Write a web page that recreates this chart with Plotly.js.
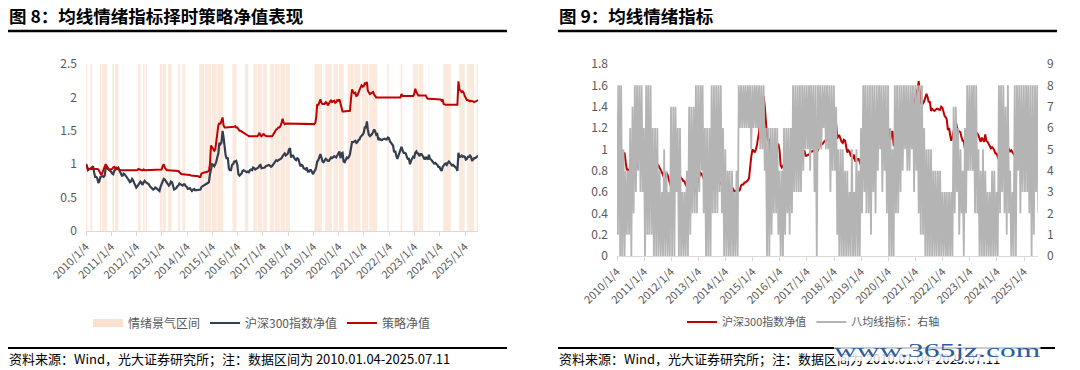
<!DOCTYPE html>
<html>
<head>
<meta charset="utf-8">
<script src="https://cdn.plot.ly/plotly-3.0.1.min.js"></script>
<style>
  html, body { margin: 0; padding: 0; background: #fff; }
  #wrap { position: relative; width: 1080px; height: 370px; }
  #chart { width: 1080px; height: 370px; }
  #wm { position: absolute; left: 834px; top: 341px; font-family: 'Liberation Serif', serif; font-size: 18px;
        color: #2E5C9E; transform: scaleX(1.75); transform-origin: left top; background: rgba(255,255,255,0.8);
        line-height: 20px; white-space: nowrap; }
</style>
</head>
<body>
<div id="wrap">
  <div id="chart"></div>
  <div id="wm">www.365jz.com</div>
</div>
<script>
// ---------------- DATA ----------------
// Half-monthly samples (1st and 16th of each month), 2010-01 .. 2025-07
const CSI300_NAV = [
  1.00,0.98, 0.91,0.93, 0.93,0.94, 0.96,0.97, 0.88,0.81, 0.81,0.79, 0.72,0.74, 0.81,0.82, 0.82,0.81, 0.83,0.94, 0.97,0.93, 0.92,0.90,
  0.89,0.86, 0.85,0.90, 0.92,0.93, 0.94,0.95, 0.91,0.86, 0.84,0.82, 0.86,0.85, 0.83,0.81, 0.79,0.76, 0.73,0.74, 0.78,0.76, 0.72,0.68,
  0.65,0.67, 0.70,0.73, 0.74,0.72, 0.69,0.73, 0.75,0.73, 0.72,0.70, 0.70,0.67, 0.65,0.64, 0.62,0.63, 0.65,0.64, 0.63,0.61, 0.60,0.66,
  0.71,0.74, 0.78,0.77, 0.75,0.71, 0.70,0.68, 0.70,0.74, 0.73,0.65, 0.62,0.63, 0.64,0.67, 0.68,0.71, 0.70,0.69, 0.68,0.70, 0.70,0.67,
  0.66,0.63, 0.63,0.64, 0.62,0.60, 0.62,0.63, 0.61,0.61, 0.61,0.61, 0.61,0.62, 0.66,0.67, 0.67,0.69, 0.69,0.70, 0.71,0.73, 0.85,0.93,
  1.00,0.99, 0.97,1.00, 1.03,1.10, 1.16,1.32, 1.30,1.32, 1.50,1.40, 1.20,1.13, 1.08,1.10, 0.93,0.91, 0.91,0.99, 1.00,1.04, 1.04,1.05,
  0.99,0.85, 0.83,0.85, 0.86,0.90, 0.91,0.90, 0.89,0.88, 0.89,0.88, 0.91,0.92, 0.91,0.95, 0.94,0.92, 0.93,0.94, 0.95,0.98, 0.99,0.94,
  0.94,0.95, 0.95,0.97, 0.98,0.98, 0.99,0.98, 0.96,0.97, 0.99,1.02, 1.04,1.06, 1.05,1.06, 1.08,1.08, 1.09,1.12, 1.14,1.16, 1.13,1.14,
  1.16,1.22, 1.24,1.10, 1.13,1.13, 1.09,1.07, 1.06,1.09, 1.08,1.02, 0.97,0.99, 0.98,0.94, 0.93,0.92, 0.95,0.89, 0.89,0.91, 0.91,0.87,
  0.85,0.89, 0.91,0.97, 1.04,1.06, 1.11,1.15, 1.10,1.04, 1.03,1.06, 1.08,1.07, 1.05,1.05, 1.08,1.10, 1.09,1.10, 1.12,1.11, 1.10,1.13,
  1.17,1.19, 1.09,1.16, 1.17,1.04, 1.03,1.07, 1.10,1.09, 1.11,1.15, 1.24,1.33, 1.33,1.34, 1.35,1.32, 1.33,1.36, 1.37,1.41, 1.42,1.44,
  1.47,1.55, 1.55,1.64, 1.52,1.44, 1.42,1.43, 1.45,1.48, 1.52,1.49, 1.44,1.45, 1.36,1.38, 1.37,1.36, 1.37,1.38, 1.38,1.37, 1.37,1.40,
  1.39,1.34, 1.31,1.30, 1.28,1.18, 1.20,1.13, 1.08,1.12, 1.17,1.22, 1.26,1.21, 1.17,1.17, 1.16,1.11, 1.08,1.08, 1.00,1.05, 1.08,1.11,
  1.10,1.17, 1.19,1.16, 1.16,1.12, 1.15,1.15, 1.13,1.09, 1.07,1.11, 1.08,1.07, 1.14,1.08, 1.07,1.05, 1.03,1.01, 1.02,1.01, 0.99,0.96,
  0.96,0.92, 0.90,0.96, 0.99,1.00, 1.01,0.99, 1.02,1.04, 1.02,1.00, 0.98,0.99, 0.97,0.95, 0.94,0.90, 1.17,1.10, 1.11,1.13, 1.11,1.12,
  1.11,1.07, 1.08,1.11, 1.11,1.13, 1.11,1.05, 1.07,1.09, 1.09,1.10, 1.12,1.13
];
const STRATEGY_NAV = [
  1.00,0.95, 0.93,0.93, 0.93,0.94, 0.93,0.93, 0.93,0.93, 0.93,0.93, 0.92,0.88, 0.86,0.84, 0.88,0.93, 0.96,1.00, 0.97,0.93, 0.92,0.92,
  0.92,0.93, 0.95,0.96, 0.94,0.95, 0.93,0.92, 0.91,0.91, 0.91,0.91, 0.91,0.91, 0.91,0.91, 0.91,0.91, 0.91,0.91, 0.91,0.91, 0.91,0.91,
  0.91,0.91, 0.93,0.92, 0.91,0.91, 0.91,0.92, 0.91,0.91, 0.91,0.91, 0.91,0.91, 0.91,0.91, 0.91,0.91, 0.91,0.91, 0.91,0.91, 0.91,0.91,
  0.92,0.97, 1.00,0.95, 0.92,0.91, 0.91,0.91, 0.91,0.91, 0.91,0.91, 0.91,0.91, 0.91,0.91, 0.90,0.88, 0.86,0.85, 0.85,0.85, 0.85,0.85,
  0.84,0.84, 0.84,0.84, 0.83,0.83, 0.83,0.83, 0.82,0.82, 0.82,0.82, 0.81,0.81, 0.86,0.87, 0.87,0.88, 0.88,0.88, 0.89,0.90, 1.00,1.28,
  1.25,1.22, 1.20,1.22, 1.30,1.45, 1.58,1.62, 1.60,1.66, 1.70,1.58, 1.55,1.55, 1.55,1.55, 1.55,1.55, 1.55,1.55, 1.55,1.56, 1.57,1.55,
  1.55,1.52, 1.50,1.50, 1.49,1.48, 1.47,1.45, 1.44,1.43, 1.43,1.42, 1.42,1.43, 1.42,1.42, 1.43,1.42, 1.42,1.42, 1.44,1.47, 1.43,1.42,
  1.44,1.45, 1.43,1.42, 1.42,1.42, 1.42,1.42, 1.41,1.42, 1.44,1.47, 1.50,1.52, 1.53,1.55, 1.55,1.57, 1.62,1.68, 1.62,1.60, 1.61,1.61,
  1.61,1.61, 1.61,1.61, 1.61,1.61, 1.61,1.61, 1.61,1.61, 1.61,1.61, 1.61,1.61, 1.61,1.61, 1.61,1.61, 1.61,1.60, 1.60,1.60, 1.60,1.60,
  1.60,1.60, 1.62,1.72, 1.90,1.88, 1.93,1.97, 1.92,1.90, 1.90,1.90, 1.93,1.92, 1.88,1.90, 1.94,1.96, 1.93,1.94, 1.95,1.92, 1.93,1.96,
  1.95,1.97, 1.90,1.85, 1.79,1.79, 1.79,1.79, 1.79,1.79, 1.79,1.80, 1.98,2.12, 2.08,2.06, 2.07,2.02, 2.03,2.08, 2.10,2.15, 2.18,2.16,
  2.17,2.21, 2.20,2.23, 2.10,2.07, 2.05,2.06, 2.07,2.08, 2.04,2.01, 2.00,2.00, 2.00,2.00, 2.00,2.00, 2.00,2.00, 2.00,2.00, 2.00,2.00,
  2.00,2.00, 2.00,2.00, 2.00,2.00, 2.00,2.00, 2.00,2.00, 2.00,2.00, 2.05,2.02, 2.02,2.02, 2.02,2.02, 2.02,2.02, 2.02,2.02, 2.02,2.02,
  2.05,2.13, 2.08,2.04, 2.03,2.03, 2.03,2.03, 2.03,2.03, 2.03,2.03, 2.00,1.98, 1.98,1.98, 1.98,1.98, 1.98,1.98, 1.97,1.97, 1.97,1.97,
  1.97,1.97, 1.95,1.97, 1.90,1.89, 1.89,1.89, 1.89,1.89, 1.89,1.89, 1.89,1.89, 1.89,1.89, 1.89,1.89, 2.24,2.12, 2.10,2.08, 2.09,2.07,
  2.02,1.98, 1.96,1.96, 1.95,1.94, 1.95,1.95, 1.94,1.93, 1.94,1.95, 1.96,1.96
];
// Eight-MA indicator (0-8): monthly high (1st) and low (16th), one digit per month, one row per year
const MA8_HIGH = [
  "888544678888","688866643543","777663347778","888666888886","544434888888","888888666666",
  "446666888888","888888888888","875554435354","688888888888","865888888888","888865554444",
  "333337765468","888854543344","388878438888","8888888"
];
const MA8_LOW = [
  "100011023433","011100000000","003000001222","342000222320","000000666665","666554001221",
  "001212333345","545305565534","410000000000","232213245342","000223454453","421100000000",
  "000002312024","442200000000","023212000423","3320132"
];
// Sentiment "boom" intervals (shaded on the left chart)
const BOOM_START = [
  "2010-01-04","2010-03-06","2010-07-20","2010-08-25","2011-01-20","2011-03-01","2011-06-22","2012-01-26",
  "2012-04-08","2012-05-15","2012-12-06","2013-01-22","2013-04-05","2013-08-29","2013-10-30","2014-06-28",
  "2014-09-18","2014-12-28","2015-03-16","2015-10-23","2016-04-20","2016-08-18","2016-10-20","2017-01-05",
  "2017-04-15","2017-06-28","2017-09-15","2017-11-28","2019-01-20","2019-06-25","2019-10-22","2020-01-05",
  "2020-05-15","2020-08-18","2020-12-08","2021-03-20","2021-12-06","2022-06-18","2022-12-16","2023-03-05",
  "2023-07-30","2024-02-25","2024-10-12","2025-02-06","2025-06-20"
];
const BOOM_END = [
  "2010-01-20","2010-04-04","2010-08-14","2010-11-06","2011-02-14","2011-04-20","2011-06-28","2012-03-03",
  "2012-04-30","2012-06-06","2013-01-15","2013-03-03","2013-05-26","2013-09-24","2013-12-08","2014-09-10",
  "2014-12-20","2015-03-10","2015-06-10","2015-12-20","2016-06-05","2016-10-10","2016-12-25","2017-03-01",
  "2017-06-20","2017-09-05","2017-11-20","2018-01-30","2019-05-08","2019-10-01","2019-12-25","2020-03-18",
  "2020-08-10","2020-11-14","2021-03-10","2021-07-12","2021-12-31","2022-07-12","2023-02-25","2023-05-10",
  "2023-08-06","2024-06-13","2024-12-31","2025-05-15","2025-07-11"
];
const TICK_DATES = ["2010-01-04","2011-01-04","2012-01-04","2013-01-04","2014-01-04","2015-01-04","2016-01-04","2017-01-04",
  "2018-01-04","2019-01-04","2020-01-04","2021-01-04","2022-01-04","2023-01-04","2024-01-04","2025-01-04"];
const TICK_TEXT = ["2010/1/4","2011/1/4","2012/1/4","2013/1/4","2014/1/4","2015/1/4","2016/1/4","2017/1/4",
  "2018/1/4","2019/1/4","2020/1/4","2021/1/4","2022/1/4","2023/1/4","2024/1/4","2025/1/4"];
const X_START = "2010-01-04", X_END = "2025-07-11";

// ---------------- BUILD ----------------
const pad = n => (n < 10 ? "0" : "") + n;
const NAV_DATES = CSI300_NAV.map((_, i) => {
  const y = 2010 + Math.floor(i / 24), m = Math.floor((i % 24) / 2) + 1, d = (i % 2) ? 16 : 1;
  return y + "-" + pad(m) + "-" + pad(d);
});
const maX = [], maY = [];
MA8_HIGH.forEach((row, yi) => {
  for (let k = 0; k < row.length; k++) {
    const base = (2010 + yi) + "-" + pad(k + 1);
    maX.push(base + "-01"); maY.push(+row[k]);
    maX.push(base + "-16"); maY.push(+MA8_LOW[yi][k]);
  }
});

const FONT = "Noto Sans CJK SC, Noto Sans, sans-serif";
const TICKC = "#595959";
const SHADE = "rgba(248,203,173,0.42)";

const traces = [
  { x: [null], y: [null], type: "scatter", mode: "lines", name: "情绪景气区间",
    line: { color: "#FBE1D0", width: 8 }, xaxis: "x", yaxis: "y", legend: "legend" },
  { x: NAV_DATES, y: CSI300_NAV, type: "scatter", mode: "lines", name: "沪深300指数净值",
    line: { color: "#333F50", width: 2.2 }, xaxis: "x", yaxis: "y", legend: "legend" },
  { x: NAV_DATES, y: STRATEGY_NAV, type: "scatter", mode: "lines", name: "策略净值",
    line: { color: "#C00000", width: 2 }, xaxis: "x", yaxis: "y", legend: "legend" },
  { x: NAV_DATES, y: CSI300_NAV, type: "scatter", mode: "lines", name: "沪深300指数净值",
    line: { color: "#C00000", width: 2 }, xaxis: "x2", yaxis: "y2", legend: "legend2" },
  { x: maX, y: maY, type: "scatter", mode: "lines", name: "八均线指标：右轴",
    line: { color: "#B4B4B4", width: 1.8 }, xaxis: "x2", yaxis: "y3", legend: "legend2" }
];

const shapes = BOOM_START.map((s, i) => ({
  type: "rect", xref: "x", yref: "y", x0: s, x1: BOOM_END[i], y0: 0, y1: 2.5,
  fillcolor: SHADE, line: { width: 0 }, layer: "below"
}));
const W = 1080, H = 370;
const px = v => v / W, py = v => 1 - v / H;
[[8, 507, 31, 2.5], [558, 1057, 31, 2.5], [8, 507, 348, 2], [558, 1055, 348, 2]].forEach(a => {
  shapes.push({ type: "line", xref: "paper", yref: "paper", x0: px(a[0]), x1: px(a[1]), y0: py(a[2]), y1: py(a[2]),
    line: { color: "#000", width: a[3] } });
});

const xCommon = {
  type: "date", range: [X_START, X_END], tickvals: TICK_DATES, ticktext: TICK_TEXT, tickangle: -45,
  ticks: "outside", ticklen: 4, tickcolor: "#D9D9D9", showline: true, linecolor: "#D9D9D9", linewidth: 1,
  showgrid: false, zeroline: false, tickfont: { family: FONT, size: 11, color: TICKC }
};
const yCommon = {
  showgrid: false, zeroline: false, showline: false, ticks: "", ticklabelstandoff: 8,
  tickfont: { family: FONT, size: 12, color: TICKC }
};
const layout = {
  width: W, height: H, margin: { l: 0, r: 0, t: 0, b: 0 },
  paper_bgcolor: "#fff", plot_bgcolor: "#fff", font: { family: FONT },
  showlegend: true,
  xaxis: Object.assign({}, xCommon, { domain: [px(86), px(478)], anchor: "y" }),
  yaxis: Object.assign({}, yCommon, { domain: [py(231), py(64)], range: [0, 2.5], dtick: 0.5, anchor: "x" }),
  xaxis2: Object.assign({}, xCommon, { domain: [px(617), px(1038)], anchor: "y2" }),
  yaxis2: Object.assign({}, yCommon, { domain: [py(256), py(64)], range: [0, 1.8], dtick: 0.2, anchor: "x2" }),
  yaxis3: Object.assign({}, yCommon, { domain: [py(256), py(64)], range: [0, 9], dtick: 1, anchor: "x2",
    overlaying: "y2", side: "right" }),
  legend: { orientation: "h", x: px(88), y: py(323), xanchor: "left", yanchor: "middle",
    font: { family: FONT, size: 12, color: TICKC }, bgcolor: "rgba(0,0,0,0)", itemwidth: 30 },
  legend2: { orientation: "h", x: px(682), y: py(322), xanchor: "left", yanchor: "middle",
    font: { family: FONT, size: 11, color: TICKC }, bgcolor: "rgba(0,0,0,0)", itemwidth: 30 },
  shapes: shapes,
  annotations: [
    { text: "图 8：均线情绪指标择时策略净值表现", xref: "paper", yref: "paper", x: px(7), y: py(15),
      xanchor: "left", yanchor: "middle", showarrow: false, font: { family: FONT, size: 17.5, color: "#000", weight: 700 } },
    { text: "图 9：均线情绪指标", xref: "paper", yref: "paper", x: px(557), y: py(15),
      xanchor: "left", yanchor: "middle", showarrow: false, font: { family: FONT, size: 17.5, color: "#000", weight: 700 } },
    { text: "资料来源：Wind，光大证券研究所；注：数据区间为 2010.01.04-2025.07.11", xref: "paper", yref: "paper",
      x: px(7), y: py(358), xanchor: "left", yanchor: "middle", showarrow: false, font: { family: FONT, size: 13, color: "#000" } },
    { text: "资料来源：Wind，光大证券研究所；注：数据区间为 2010.01.04-2025.07.11", xref: "paper", yref: "paper",
      x: px(557), y: py(358), xanchor: "left", yanchor: "middle", showarrow: false, font: { family: FONT, size: 13, color: "#000" } }
  ]
};
Plotly.newPlot("chart", traces, layout, { displayModeBar: false, staticPlot: true });
</script>
</body>
</html>
